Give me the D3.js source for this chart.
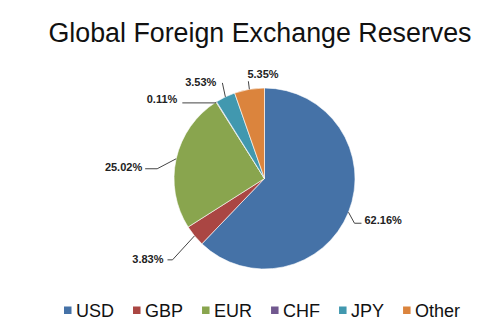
<!DOCTYPE html>
<html>
<head>
<meta charset="utf-8">
<script src="https://cdn.jsdelivr.net/npm/d3@7"></script>
<style>
  body { margin: 0; background: #fff; }
  svg { display: block; font-family: "Liberation Sans", Arial, sans-serif; }
</style>
</head>
<body>
<div id="chart"></div>
<script>
var currencies = ["USD", "GBP", "EUR", "CHF", "JPY", "Other"],
    shares = [62.16, 3.83, 25.02, 0.11, 3.53, 5.35],
    colors = ["#4572A7", "#AA4643", "#89A54E", "#71588F", "#4198AF", "#DB843D"];

// leader line bends and text spots, relative to the slice's outer midpoint
var labelLayout = {
  USD:   { line: [[6, 11], [13, 11]],   text: [16, 12],  anchor: "start" },
  GBP:   { line: [[-22, 24], [-27, 24]], text: [-31, 27], anchor: "end" },
  EUR:   { line: [[-19, 10], [-31, 10]], text: [-34, 12], anchor: "end" },
  CHF:   { line: [[-1, 1], [-34, 1]],   text: [-39, 1],  anchor: "end" },
  JPY:   { line: [[-3, -14]],           text: [-9, -11], anchor: "end" },
  Other: { line: [[-1, -8]],            text: [-2, -11], anchor: "start" }
};

var width = 500, height = 333,
    cx = 264.5, cy = 178.5, radius = 90.5;

var svg = d3.select("#chart").append("svg")
    .attr("width", width)
    .attr("height", height);

svg.append("text")
    .attr("x", 260)
    .attr("y", 42)
    .attr("text-anchor", "middle")
    .style("font-size", "26.8px")
    .style("fill", "#111")
    .text("Global Foreign Exchange Reserves");

var color = d3.scaleOrdinal().domain(currencies).range(colors);

var pie = d3.pie().sort(null).value(function (d) { return d.v; });
var arcs = pie(currencies.map(function (c, i) { return { k: c, v: shares[i] }; }));

var arc = d3.arc().innerRadius(0).outerRadius(radius);
var g = svg.append("g").attr("transform", "translate(" + cx + "," + cy + ")");

g.selectAll("path.slice")
    .data(arcs)
    .enter().append("path")
    .attr("class", "slice")
    .attr("d", arc)
    .attr("fill", function (d) { return color(d.data.k); })
    .attr("stroke", "#fff")
    .attr("stroke-width", 0.6);

function edgePoint(d) {
  var a = (d.startAngle + d.endAngle) / 2;
  return [Math.sin(a) * radius, -Math.cos(a) * radius];
}

var labels = g.selectAll("g.lbl")
    .data(arcs)
    .enter().append("g")
    .attr("class", "lbl");

labels.append("polyline")
    .attr("points", function (d) {
      var p = edgePoint(d), lay = labelLayout[d.data.k];
      var pts = [p].concat(lay.line.map(function (o) { return [p[0] + o[0], p[1] + o[1]]; }));
      return pts.map(function (q) { return q.join(","); }).join(" ");
    })
    .attr("fill", "none")
    .attr("stroke", "#444")
    .attr("stroke-width", 1);

labels.append("text")
    .attr("x", function (d) { return edgePoint(d)[0] + labelLayout[d.data.k].text[0]; })
    .attr("y", function (d) { return edgePoint(d)[1] + labelLayout[d.data.k].text[1]; })
    .attr("text-anchor", function (d) { return labelLayout[d.data.k].anchor; })
    .style("font-size", "11px")
    .style("font-weight", "bold")
    .style("fill", "#222")
    .text(function (d) { return d.data.v.toFixed(2) + "%"; });

// legend
var legend = svg.append("g").attr("transform", "translate(64,317)");
var lx = 0;
currencies.forEach(function (c) {
  var item = legend.append("g").attr("transform", "translate(" + lx + ",0)");
  item.append("rect")
      .attr("x", 0).attr("y", -10.5)
      .attr("width", 7.5).attr("height", 7.5)
      .attr("fill", color(c));
  var t = item.append("text")
      .attr("x", 12)
      .attr("y", 0)
      .style("font-size", "18px")
      .style("fill", "#111")
      .text(c);
  lx += 12 + t.node().getComputedTextLength() + 19;
});
</script>
</body>
</html>
